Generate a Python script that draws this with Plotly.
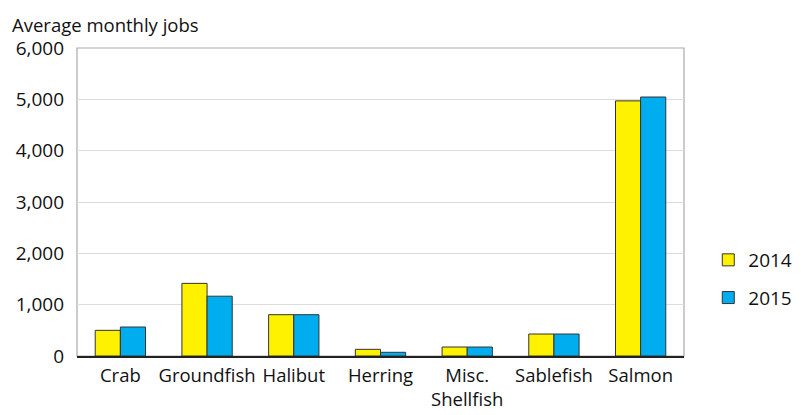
import plotly.graph_objects as go

categories = ["Crab", "Groundfish", "Halibut", "Herring", "Misc.<br>Shellfish", "Sablefish", "Salmon"]
jobs_2014 = [500, 1415, 805, 130, 175, 428, 4970]
jobs_2015 = [565, 1165, 805, 72, 175, 428, 5045]
y_ticks = [0, 1000, 2000, 3000, 4000, 5000, 6000]
y_tick_labels = ["0", "1,000", "2,000", "3,000", "4,000", "5,000", "6,000"]

FONT = "'Open Sans', 'Noto Sans', sans-serif"

fig = go.Figure()
fig.add_trace(go.Bar(name="2014", x=categories, y=jobs_2014, legendgroup="a",
                     marker=dict(color="#FFF200", line=dict(color="#333333", width=1))))
fig.add_trace(go.Bar(name="2015", x=categories, y=jobs_2015, legendgroup="b",
                     marker=dict(color="#00AEEF", line=dict(color="#333333", width=1))))

fig.update_layout(
    width=801, height=415,
    margin=dict(l=69, r=122, t=40, b=67),
    paper_bgcolor="white", plot_bgcolor="white",
    font=dict(family=FONT, size=19, color="#111111"),
    barmode="group", bargap=0.42, bargroupgap=0,
    showlegend=True,
    legend=dict(x=1.04, y=0.25, xanchor="left", yanchor="middle",
                font=dict(size=19), itemwidth=30, tracegroupgap=10),
    xaxis=dict(showline=True, linecolor="#222222", linewidth=1.5, ticks="",
               tickfont=dict(size=18.5), showgrid=False, ticklabelstandoff=2,
               automargin=False),
    yaxis=dict(range=[0, 6000], tickvals=y_ticks, ticktext=y_tick_labels,
               showgrid=True, gridcolor="#DDDDDD", gridwidth=1,
               showline=False, ticks="", zeroline=False,
               tickfont=dict(size=19), ticklabelstandoff=12, automargin=False),
    shapes=[dict(type="rect", xref="paper", yref="paper", x0=0, x1=1, y0=0, y1=1,
                 line=dict(color="#AAAAAA", width=1.2), layer="below")],
    annotations=[dict(text="Average monthly jobs", xref="paper", yref="paper",
                      x=-0.111, y=1.03, xanchor="left", yanchor="bottom",
                      showarrow=False, font=dict(size=18.5))],
)

fig.write_html("out.html")
